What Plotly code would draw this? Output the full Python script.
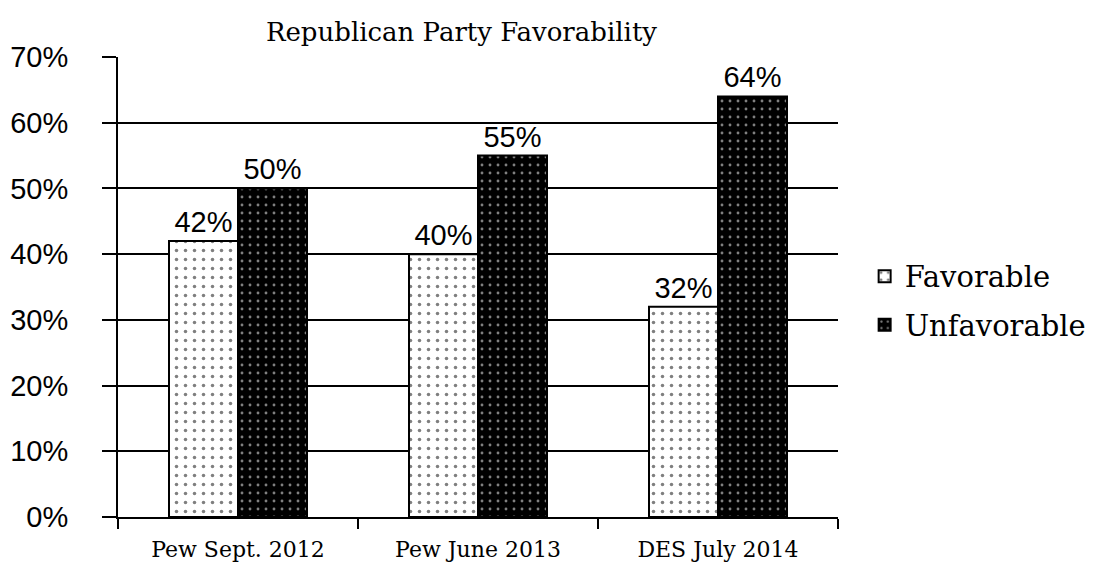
import plotly.graph_objects as go

categories = ["Pew Sept. 2012", "Pew June 2013", "DES July 2014"]
favorable = [42, 40, 32]
unfavorable = [50, 55, 64]
y_ticks = [0, 10, 20, 30, 40, 50, 60, 70]
y_tick_labels = [f"{v}%" for v in y_ticks]

serif = "Palatino Linotype, Book Antiqua, DejaVu Serif, serif"
sans = "Arial, Liberation Sans, sans-serif"

fig = go.Figure()
fig.add_trace(go.Bar(
    name="Favorable", x=categories, y=favorable, legendgroup="fav",
    text=[f"{v}%" for v in favorable], textposition="outside",
    textfont=dict(family=sans, size=29, color="black"),
    marker=dict(color="white", line=dict(color="black", width=2),
                pattern=dict(shape=".", fgcolor="black", bgcolor="white",
                             size=9, solidity=0.12)),
    cliponaxis=False,
))
fig.add_trace(go.Bar(
    name="Unfavorable", x=categories, y=unfavorable, legendgroup="unfav",
    text=[f"{v}%" for v in unfavorable], textposition="outside",
    textfont=dict(family=sans, size=29, color="black"),
    marker=dict(color="black", line=dict(color="black", width=2),
                pattern=dict(shape=".", fgcolor="white", bgcolor="black",
                             size=8, solidity=0.1)),
    cliponaxis=False,
))

fig.update_layout(
    width=1104, height=573,
    margin=dict(l=118, r=266, t=57, b=56, autoexpand=False),
    paper_bgcolor="white", plot_bgcolor="white",
    barmode="group", bargap=0.425, bargroupgap=0,
    title=dict(text="Republican Party Favorability", x=0.418, xanchor="center",
               y=0.945, yanchor="middle",
               font=dict(family=serif, size=26, color="black")),
    legend=dict(x=1.037, y=0.47, xanchor="left", yanchor="middle",
                font=dict(family=serif, size=29, color="black"),
                itemsizing="constant", tracegroupgap=8, itemwidth=30),
    showlegend=True,
)
fig.update_xaxes(
    showline=True, linecolor="black", linewidth=2,
    ticks="outside", tickson="boundaries", ticklen=10, tickwidth=2, tickcolor="black",
    tickfont=dict(family=serif, size=22, color="black"), ticklabelstandoff=12,
    showgrid=False,
)
fig.update_yaxes(
    range=[0, 70], tickvals=y_ticks, ticktext=y_tick_labels,
    showline=True, linecolor="black", linewidth=2,
    ticks="outside", ticklen=14, tickwidth=2, tickcolor="black",
    tickfont=dict(family=sans, size=29, color="black"), ticklabelstandoff=28,
    showgrid=True, gridcolor="black", gridwidth=2, zeroline=False,
)

fig.write_html("out.html")
